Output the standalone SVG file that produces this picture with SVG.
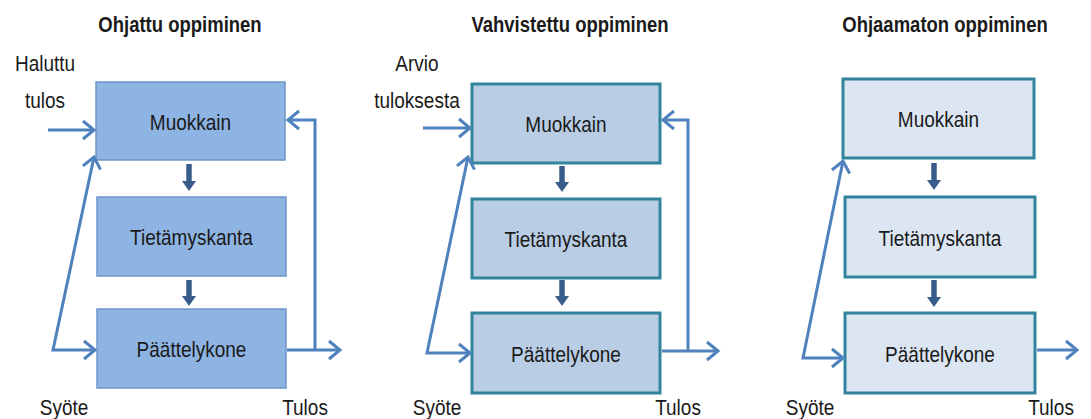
<svg xmlns="http://www.w3.org/2000/svg" width="1091" height="419" viewBox="0 0 1091 419">
<style>
text{font-family:"Liberation Sans",Arial,sans-serif;fill:#1a1a1a;text-anchor:middle}
.title{font-size:18.5px;font-weight:bold}
.lbl{font-size:19px}
.box1{fill:#8EB4E3;stroke:#6F95C6;stroke-width:1.5}
.box2{fill:#B9CDE5;stroke:#31849B;stroke-width:3}
.box3{fill:#DCE6F2;stroke:#31849B;stroke-width:3}
.flow{fill:none;stroke:#4F81BD;stroke-width:3;stroke-linejoin:miter}
.down{fill:none;stroke:#385D8A;stroke-width:5.5}
</style>
<defs>
<marker id="open" markerUnits="userSpaceOnUse" markerWidth="18" markerHeight="22" refX="14" refY="10" orient="auto-start-reverse" viewBox="0 0 18 20">
<path d="M3,1 L14,10 L3,19" fill="none" stroke="#4F81BD" stroke-width="3"/>
</marker>
<marker id="solid" markerUnits="userSpaceOnUse" markerWidth="14" markerHeight="14" refX="2" refY="7" orient="auto" viewBox="0 0 14 14">
<path d="M0,0 L10,7 L0,14 Z" fill="#385D8A"/>
</marker>
</defs>

<g id="titles">
<text class="title" transform="translate(180,32) scale(1,1.15)">Ohjattu oppiminen</text>
<text class="title" transform="translate(570,32) scale(1,1.15)">Vahvistettu oppiminen</text>
<text class="title" transform="translate(945,32) scale(1,1.15)">Ohjaamaton oppiminen</text>
</g>

<g id="labels">
<text class="lbl" transform="translate(45,71) scale(1,1.15)">Haluttu</text>
<text class="lbl" transform="translate(45,108) scale(1,1.15)">tulos</text>
<text class="lbl" transform="translate(64,415) scale(1,1.15)">Syöte</text>
<text class="lbl" transform="translate(305,415) scale(1,1.15)">Tulos</text>
<text class="lbl" transform="translate(417,71) scale(1,1.15)">Arvio</text>
<text class="lbl" transform="translate(417,108) scale(1,1.15)">tuloksesta</text>
<text class="lbl" transform="translate(437,415) scale(1,1.15)">Syöte</text>
<text class="lbl" transform="translate(678,415) scale(1,1.15)">Tulos</text>
<text class="lbl" transform="translate(810,415) scale(1,1.15)">Syöte</text>
<text class="lbl" transform="translate(1051,415) scale(1,1.15)">Tulos</text>
</g>

<g id="p1-muokkain"><rect class="box1" x="96" y="82" width="189" height="78"/><text class="lbl" transform="translate(190.5,130) scale(1,1.15)">Muokkain</text></g>
<g id="p1-tietamyskanta"><rect class="box1" x="97" y="197" width="189" height="79"/><text class="lbl" transform="translate(191.5,245) scale(1,1.15)">Tietämyskanta</text></g>
<g id="p1-paattelykone"><rect class="box1" x="97" y="309" width="189" height="79"/><text class="lbl" transform="translate(191.5,357) scale(1,1.15)">Päättelykone</text></g>

<g id="p2-muokkain"><rect class="box2" x="472" y="84" width="188" height="79"/><text class="lbl" transform="translate(566,132) scale(1,1.15)">Muokkain</text></g>
<g id="p2-tietamyskanta"><rect class="box2" x="472" y="199" width="188" height="79"/><text class="lbl" transform="translate(566,247) scale(1,1.15)">Tietämyskanta</text></g>
<g id="p2-paattelykone"><rect class="box2" x="472" y="313" width="188" height="80"/><text class="lbl" transform="translate(566,362) scale(1,1.15)">Päättelykone</text></g>

<g id="p3-muokkain"><rect class="box3" x="843" y="79" width="191" height="79"/><text class="lbl" transform="translate(938.5,127) scale(1,1.15)">Muokkain</text></g>
<g id="p3-tietamyskanta"><rect class="box3" x="845" y="197" width="190" height="80"/><text class="lbl" transform="translate(940,246) scale(1,1.15)">Tietämyskanta</text></g>
<g id="p3-paattelykone"><rect class="box3" x="845" y="313" width="190" height="80"/><text class="lbl" transform="translate(940,362) scale(1,1.15)">Päättelykone</text></g>

<g id="connectors">
<line class="down" x1="189" y1="164" x2="189" y2="183" marker-end="url(#solid)"/>
<line class="down" x1="189" y1="280" x2="189" y2="298" marker-end="url(#solid)"/>
<line class="down" x1="562" y1="166" x2="562" y2="184" marker-end="url(#solid)"/>
<line class="down" x1="562" y1="280" x2="562" y2="298" marker-end="url(#solid)"/>
<line class="down" x1="934" y1="163" x2="934" y2="182" marker-end="url(#solid)"/>
<line class="down" x1="934" y1="280" x2="934" y2="299" marker-end="url(#solid)"/>

<line class="flow" x1="48" y1="130" x2="94" y2="130" marker-end="url(#open)"/>
<polyline class="flow" points="94,157 53,350 95,350" marker-start="url(#open)" marker-end="url(#open)"/>
<line class="flow" x1="287" y1="350" x2="340" y2="350" marker-end="url(#open)"/>
<polyline class="flow" points="315,350 315,120 288,120" marker-end="url(#open)"/>

<line class="flow" x1="423" y1="128" x2="470" y2="128" marker-end="url(#open)"/>
<polyline class="flow" points="468,157 427,353 470,353" marker-start="url(#open)" marker-end="url(#open)"/>
<line class="flow" x1="662" y1="351" x2="718" y2="351" marker-end="url(#open)"/>
<polyline class="flow" points="688,351 688,120 663,120" marker-end="url(#open)"/>

<polyline class="flow" points="843,161 803,358 843,358" marker-start="url(#open)" marker-end="url(#open)"/>
<line class="flow" x1="1037" y1="350" x2="1077" y2="350" marker-end="url(#open)"/>
</g>
</svg>
